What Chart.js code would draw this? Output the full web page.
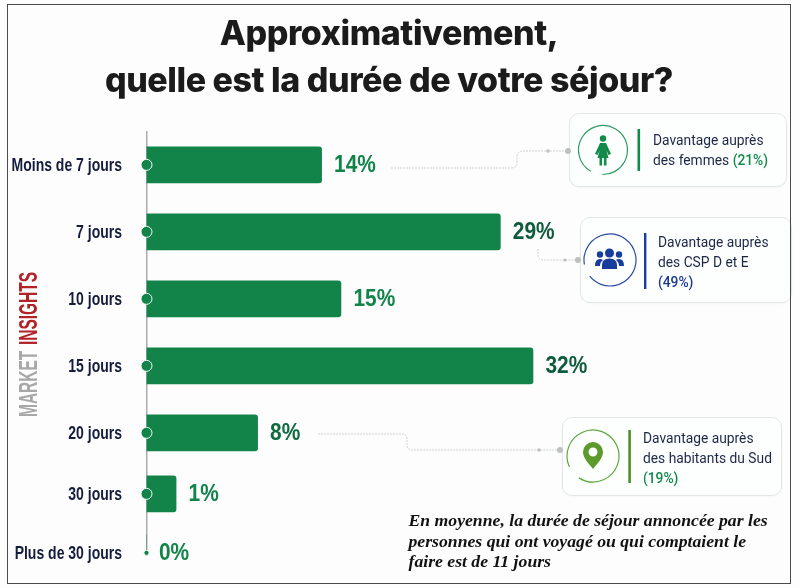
<!DOCTYPE html>
<html lang="fr">
<head>
<meta charset="utf-8">
<script src="https://cdn.jsdelivr.net/npm/chart.js@4/dist/chart.umd.js"></script>
<style>
html,body{margin:0;padding:0;background:#fdfdfd;}
#stage{position:relative;width:800px;height:588px;overflow:hidden;background:#fdfdfd;}
canvas{position:absolute;left:0;top:0;}
#frame{position:absolute;left:6.5px;top:4px;width:782.5px;height:577.5px;border:1.5px solid #4a4a4a;pointer-events:none;box-sizing:content-box;}
svg{position:absolute;left:0;top:0;}
.card{position:absolute;box-sizing:border-box;background:#fdfefe;border:1.5px solid #e3e6e6;border-radius:10px;box-shadow:0 1px 2px rgba(0,0,0,.03);}
.txt{position:absolute;font:13.8px/20px Roboto,sans-serif;color:#1c2747;white-space:nowrap;}
.txt b{font-weight:500;}
#brand{position:absolute;left:18px;top:417px;transform:rotate(-90deg) scaleX(.62);transform-origin:0 0;font:bold 25px/20px "Liberation Sans",sans-serif;white-space:nowrap;}
#note{position:absolute;left:408.5px;top:510px;font:italic bold 17.7px/20.5px "Liberation Serif",serif;color:#111;white-space:nowrap;}
</style>
</head>
<body>
<div id="stage">
  <canvas id="c" width="778" height="588"></canvas>
  <div class="card" style="left:569px;top:113px;width:218px;height:74px"></div>
  <div class="card" style="left:580px;top:217px;width:212px;height:86px"></div>
  <div class="card" style="left:562px;top:417px;width:220px;height:79px"></div>
  <svg width="800" height="588" viewBox="0 0 800 588">
    <g fill="none" stroke="#cfd2d2" stroke-width="1" stroke-dasharray="2 1">
      <path d="M391 168H511Q517 168 517 162V157Q517 151 523 151H568"/>
      <path d="M538 249V255Q538 260 544 260H578"/>
      <path d="M318 434H402Q407 434 407 439V445Q407 450 412 450H560"/>
    </g>
    <g fill="#bcc0c1">
      <circle cx="548" cy="151" r="1.8"/><circle cx="568" cy="151" r="3"/>
      <circle cx="565" cy="260" r="1.6"/><circle cx="578" cy="260" r="3"/>
      <circle cx="539" cy="450" r="1.8"/><circle cx="560" cy="450" r="3"/>
    </g>
    <!-- femmes -->
    <circle cx="603" cy="150" r="24.5" fill="none" stroke="#2f9d62" stroke-width="1.2" pathLength="100" stroke-dasharray="92 8" transform="rotate(120 603 150)"/>
    <rect x="637.5" y="129" width="2.6" height="42" fill="#128a4a"/>
    <g fill="#128a4a">
      <circle cx="603" cy="138.5" r="3.2"/>
      <path d="M600 143H606L611 154L608.5 155L606.5 150.5L608.5 158H597.5L599.5 150.5L597.5 155L595 154Z"/>
      <rect x="599.5" y="158" width="2.6" height="7.5"/><rect x="603.9" y="158" width="2.6" height="7.5"/>
    </g>
    <!-- CSP -->
    <circle cx="610" cy="260" r="26" fill="none" stroke="#2a4aa8" stroke-width="1.2" pathLength="100" stroke-dasharray="92 8" transform="rotate(170 610 260)"/>
    <rect x="644" y="233" width="2.4" height="56" fill="#1a3fa0"/>
    <g fill="#173d9c">
      <circle cx="609.5" cy="253" r="4.5"/><circle cx="600" cy="254.5" r="3.2"/><circle cx="619" cy="254.5" r="3.2"/>
      <path d="M602 269V265Q602 258.5 609.5 258.5Q617 258.5 617 265V269Z"/>
      <path d="M595 266Q595 259 600 259Q602 259 603 260Q600 262 600 266Z"/>
      <path d="M624 266Q624 259 619 259Q617 259 616 260Q619 262 619 266Z"/>
    </g>
    <!-- Sud -->
    <circle cx="593" cy="456" r="26" fill="none" stroke="#5aa83a" stroke-width="1.2" pathLength="100" stroke-dasharray="91 9" transform="rotate(155 593 456)"/>
    <rect x="628.3" y="430" width="2.6" height="53" fill="#4f8f2a"/>
    <path fill-rule="evenodd" fill="#5b9a2b" d="M593 442A10 10 0 0 1 603 452C603 458 597 464 593 469C589 464 583 458 583 452A10 10 0 0 1 593 442ZM593 447.5A4.5 4.5 0 1 0 593 456.5A4.5 4.5 0 1 0 593 447.5Z"/>
  </svg>
  <div class="txt" style="left:653px;top:130px">Davantage auprès<br>des femmes <b style="color:#128a4a">(21%)</b></div>
  <div class="txt" style="left:658px;top:232px">Davantage auprès<br>des CSP D et E<br><b style="color:#1a3a94">(49%)</b></div>
  <div class="txt" style="left:643px;top:428px">Davantage auprès<br>des habitants du Sud<br><b style="color:#128a4a">(19%)</b></div>
  <div id="brand"><span style="color:#a8a8a8">MARKET</span><span style="color:#b12327;margin-left:9px">INSIGHTS</span></div>
  <div id="note">En moyenne, la durée de séjour annoncée par les<br>personnes qui ont voyagé ou qui comptaient le<br>faire est de 11 jours</div>
  <div id="frame"></div>
</div>
<script>
// Categories and the percentages printed on the chart
const categories = ["Moins de 7 jours","7 jours","10 jours","15 jours","20 jours","30 jours","Plus de 30 jours"];
const shownPercents = [14,29,15,32,8,1,0];
// Bar lengths: the reference bars are not exactly
// proportional to their printed percentages (short bars are drawn longer).
const barLengths = [14.5,29.3,16.1,32,9.2,2.45,0];
const axisAnchors = [0,0,0,0,0,0,0];

// Layout and style constants
const ROW_INSET = 33;
const ROW_GAPS = [67,67,67,67,61,59];
const DOT_RADII = [5.5,5.5,5.5,5.5,5.5,5.5,2.6];
const VALUE_COLORS = ["#12844a","#0f5c3c","#12844a","#0f5c3c","#0f6a40","#12844a","#12844a"];
const X_MAX = 51.75;
const LABEL_CONDENSE = 0.8;
const VALUE_CONDENSE = 0.87;

// Category scale with the uneven row spacing of the reference and condensed labels
class RowScale extends Chart.CategoryScale {
  static id = "rowCategory";
  static defaults = Chart.CategoryScale.defaults;
  getPixelForValue(value) {
    const i = typeof value === "number" ? value : this.parse(value);
    if (i === null || i === undefined) return NaN;
    let y = this.top + ROW_INSET;
    for (let k = 0; k < i && k < ROW_GAPS.length; k++) y += ROW_GAPS[k];
    return y;
  }
  _computeLabelArea() { return null; }
  drawLabels(area) {
    const ctx = this.ctx, a = this.right - this.options.ticks.padding;
    ctx.save();
    ctx.letterSpacing = "0px";
    ctx.translate(a, 1.2);
    ctx.scale(LABEL_CONDENSE, 1);
    ctx.translate(-a, 0);
    super.drawLabels(area);
    ctx.restore();
  }
}
Chart.register(RowScale);

const valueLabels = {
  id: "valueLabels",
  beforeDraw(chart) { chart.ctx.letterSpacing = "-0.45px"; },
  afterDatasetsDraw(chart) {
    const ctx = chart.ctx, bars = chart.getDatasetMeta(0).data;
    ctx.save();
    ctx.letterSpacing = "0px";
    ctx.font = 'bold 24px "Liberation Sans",sans-serif';
    ctx.textBaseline = "middle";
    ctx.textAlign = "left";
    bars.forEach((bar, i) => {
      ctx.fillStyle = VALUE_COLORS[i];
      ctx.save();
      ctx.translate(bar.x + 12.5, bar.y + 1);
      ctx.scale(VALUE_CONDENSE, 1);
      ctx.fillText(shownPercents[i] + "%", 0, 0);
      ctx.restore();
    });
    ctx.restore();
  },
  afterDraw(chart) { chart.ctx.letterSpacing = "0px"; }
};

new Chart(document.getElementById("c"), {
  type: "bar",
  plugins: [valueLabels],
  data: {
    labels: categories,
    datasets: [
      { type: "bar", data: barLengths, backgroundColor: "#12844a", barThickness: 36, borderRadius: 3, borderSkipped: "left", order: 2 },
      { type: "line", data: axisAnchors, showLine: false, clip: false, order: 1,
        pointRadius: DOT_RADII, pointBackgroundColor: "#12844a", pointBorderColor: "#f2f7f4", pointBorderWidth: 1 }
    ]
  },
  options: {
    indexAxis: "y",
    responsive: false,
    animation: false,
    devicePixelRatio: 1,
    layout: { padding: { left: 0, right: 0, top: 0, bottom: 11 } },
    plugins: {
      legend: { display: false },
      tooltip: { enabled: false },
      title: {
        display: true,
        text: ["Approximativement,","quelle est la durée de votre séjour?"],
        color: "#1b1b1b",
        font: { family: 'Inter,"Liberation Sans",Arial,sans-serif', size: 34, weight: "800", lineHeight: 1.38 },
        padding: { top: 11.5, bottom: 26.5 }
      }
    },
    scales: {
      x: { type: "linear", min: 0, max: X_MAX, display: false },
      y: {
        type: "rowCategory",
        afterFit(scale) { scale.width = 146.5; },
        grid: { display: false, drawTicks: false },
        border: { display: true, color: "#a9adab", width: 1.5 },
        ticks: {
          autoSkip: false, padding: 24.5, color: "#141b3c",
          font: { family: '"Liberation Sans",sans-serif', size: 17.5, weight: "bold" }
        }
      }
    }
  }
});
</script>
</body>
</html>
